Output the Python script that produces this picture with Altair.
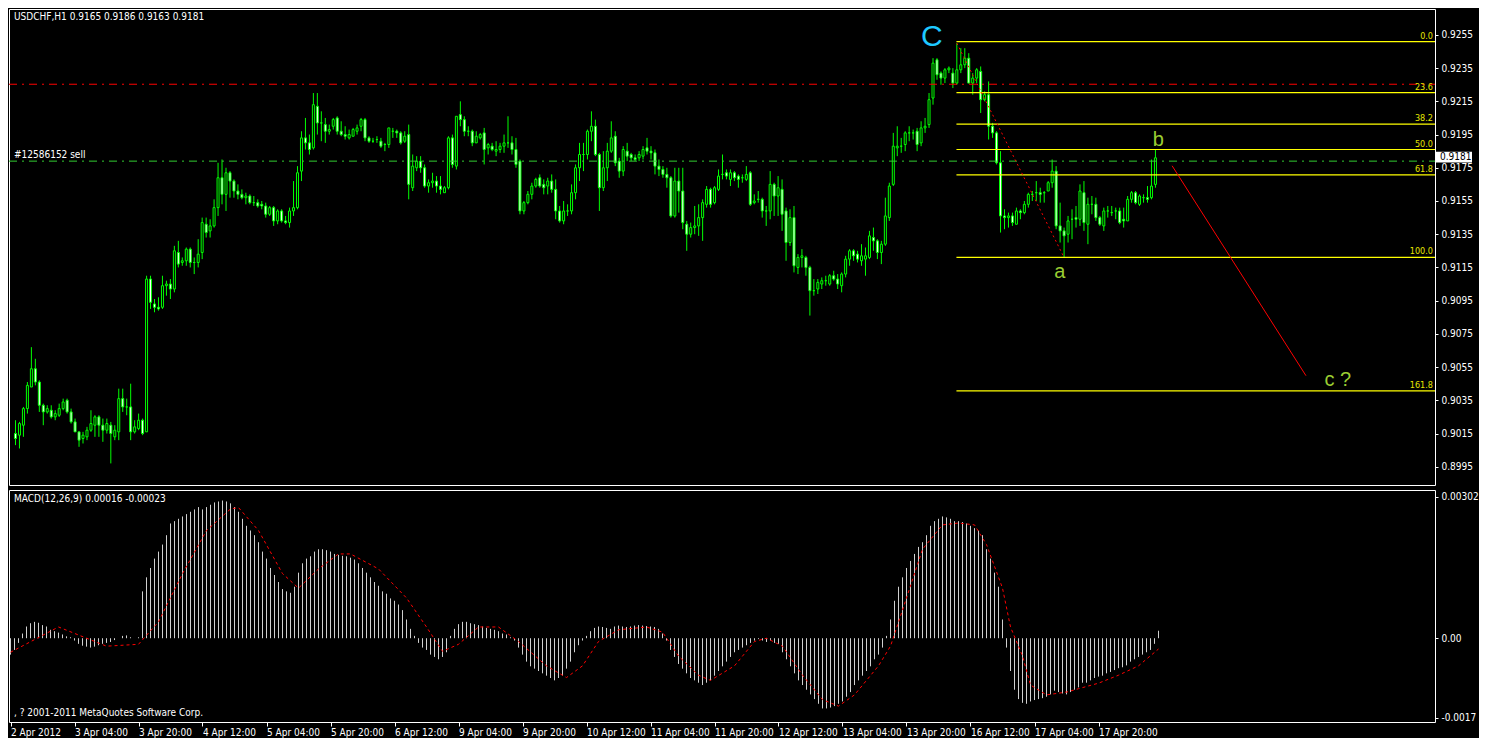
import json
import altair as alt
import pandas as pd

# ---------------- data ----------------
# hourly candles, prices in pips (1 pip = 0.0001)
opens = [
    9015, 9014, 9020, 9030, 9043, 9054, 9046, 9032, 9028, 9029,
    9025, 9026, 9030, 9035, 9028, 9022, 9016, 9012, 9013, 9017,
    9020, 9025, 9020, 9017, 9020, 9013, 9016, 9036, 9031, 9031,
    9016, 9018, 9023, 9016, 9108, 9093, 9091, 9091, 9104, 9105,
    9102, 9124, 9118, 9119, 9126, 9118, 9118, 9124, 9141, 9137,
    9140, 9151, 9169, 9159, 9172, 9167, 9161, 9159, 9157, 9158,
    9154, 9154, 9153, 9152, 9147, 9151, 9143, 9149, 9143, 9142,
    9149, 9151, 9173, 9193, 9190, 9187, 9212, 9202, 9201, 9197,
    9200, 9205, 9197, 9195, 9193, 9194, 9197, 9200, 9204, 9193,
    9191, 9192, 9191, 9189, 9189, 9197, 9197, 9196, 9191, 9195,
    9163, 9175, 9179, 9175, 9164, 9166, 9167, 9164, 9160, 9163,
    9193, 9176, 9207, 9204, 9197, 9197, 9190, 9193, 9196, 9187,
    9188, 9185, 9186, 9188, 9190, 9190, 9186, 9179, 9149, 9154,
    9159, 9164, 9169, 9165, 9164, 9167, 9162, 9149, 9143, 9149,
    9149, 9160, 9175, 9183, 9183, 9197, 9200, 9183, 9163, 9175,
    9185, 9194, 9179, 9173, 9185, 9183, 9181, 9181, 9182, 9187,
    9185, 9184, 9176, 9174, 9171, 9169, 9146, 9167, 9161, 9141,
    9135, 9139, 9140, 9145, 9153, 9162, 9154, 9162, 9171, 9172,
    9168, 9172, 9170, 9169, 9168, 9172, 9154, 9156, 9156, 9149,
    9149, 9165, 9158, 9162, 9149, 9130, 9145, 9115, 9121, 9121,
    9115, 9101, 9102, 9105, 9107, 9105, 9110, 9108, 9104, 9111,
    9120, 9125, 9123, 9119, 9120, 9121, 9133, 9131, 9124, 9129,
    9145, 9165, 9187, 9188, 9189, 9196, 9196, 9197, 9190, 9199,
    9201, 9217, 9240, 9232, 9229, 9234, 9232, 9226, 9234, 9237,
    9241, 9226, 9229, 9233, 9216, 9219, 9200, 9196, 9178, 9146,
    9145, 9146, 9141, 9149, 9148, 9153, 9159, 9160, 9160, 9160,
    9161, 9166, 9173, 9140, 9137, 9135, 9144, 9145, 9144, 9160,
    9141, 9153, 9153, 9145, 9140, 9149, 9148, 9149, 9149, 9144,
    9143, 9156, 9160, 9153, 9157, 9157, 9157, 9165,
]
highs = [
    9023, 9022, 9031, 9046, 9067, 9060, 9047, 9033, 9032, 9032,
    9029, 9033, 9036, 9036, 9030, 9024, 9016, 9016, 9019, 9029,
    9026, 9026, 9024, 9024, 9022, 9020, 9042, 9042, 9036, 9045,
    9023, 9027, 9024, 9110, 9110, 9096, 9097, 9110, 9107, 9108,
    9128, 9131, 9121, 9127, 9127, 9121, 9132, 9145, 9145, 9144,
    9156, 9178, 9180, 9175, 9173, 9168, 9165, 9162, 9160, 9159,
    9158, 9156, 9155, 9154, 9152, 9152, 9150, 9150, 9146, 9151,
    9167, 9176, 9197, 9205, 9195, 9220, 9220, 9209, 9205, 9201,
    9205, 9206, 9203, 9200, 9198, 9199, 9201, 9205, 9205, 9194,
    9193, 9194, 9193, 9190, 9199, 9199, 9198, 9197, 9197, 9201,
    9183, 9182, 9182, 9177, 9168, 9172, 9170, 9170, 9164, 9194,
    9195, 9206, 9215, 9206, 9200, 9198, 9197, 9196, 9199, 9190,
    9190, 9191, 9190, 9195, 9206, 9194, 9193, 9180, 9155, 9161,
    9166, 9169, 9171, 9168, 9169, 9171, 9168, 9152, 9155, 9153,
    9165, 9177, 9190, 9190, 9198, 9209, 9204, 9184, 9185, 9190,
    9203, 9197, 9181, 9188, 9190, 9184, 9183, 9185, 9188, 9193,
    9188, 9186, 9180, 9176, 9175, 9170, 9175, 9175, 9175, 9143,
    9142, 9152, 9153, 9156, 9164, 9163, 9164, 9174, 9183, 9174,
    9174, 9173, 9171, 9171, 9176, 9173, 9159, 9161, 9157, 9152,
    9173, 9166, 9170, 9168, 9151, 9150, 9152, 9123, 9126, 9122,
    9116, 9108, 9108, 9109, 9110, 9111, 9113, 9111, 9112, 9122,
    9126, 9126, 9125, 9129, 9127, 9137, 9139, 9132, 9131, 9157,
    9166, 9196, 9200, 9193, 9197, 9200, 9198, 9199, 9203, 9205,
    9220, 9241, 9241, 9233, 9235, 9236, 9235, 9250, 9247, 9247,
    9244, 9232, 9235, 9236, 9221, 9227, 9202, 9197, 9185, 9150,
    9148, 9148, 9151, 9150, 9155, 9160, 9161, 9167, 9163, 9161,
    9167, 9180, 9176, 9154, 9139, 9146, 9150, 9152, 9165, 9167,
    9157, 9158, 9157, 9146, 9151, 9152, 9152, 9151, 9151, 9151,
    9158, 9161, 9161, 9159, 9159, 9164, 9180, 9186,
]
lows = [
    9008, 9006, 9013, 9027, 9043, 9044, 9028, 9020, 9027, 9024,
    9023, 9025, 9029, 9027, 9021, 9016, 9007, 9009, 9011, 9016,
    9013, 9013, 9010, 9015, 8997, 9011, 9011, 9028, 9026, 9011,
    9015, 9017, 9014, 9016, 9090, 9088, 9089, 9090, 9098, 9096,
    9100, 9115, 9116, 9116, 9115, 9111, 9115, 9120, 9133, 9133,
    9139, 9146, 9153, 9149, 9157, 9157, 9156, 9156, 9153, 9153,
    9152, 9151, 9150, 9145, 9146, 9140, 9141, 9142, 9141, 9139,
    9146, 9150, 9167, 9186, 9183, 9186, 9195, 9191, 9190, 9195,
    9198, 9195, 9194, 9192, 9192, 9194, 9195, 9197, 9191, 9190,
    9190, 9190, 9187, 9185, 9187, 9193, 9193, 9189, 9190, 9156,
    9161, 9173, 9172, 9163, 9160, 9163, 9160, 9159, 9160, 9162,
    9175, 9174, 9200, 9194, 9194, 9188, 9190, 9192, 9177, 9183,
    9185, 9182, 9184, 9184, 9187, 9183, 9175, 9147, 9147, 9153,
    9156, 9163, 9163, 9159, 9159, 9160, 9144, 9142, 9141, 9146,
    9147, 9156, 9167, 9173, 9180, 9191, 9182, 9149, 9161, 9167,
    9184, 9176, 9169, 9170, 9179, 9179, 9179, 9179, 9180, 9183,
    9180, 9171, 9170, 9169, 9163, 9145, 9145, 9148, 9138, 9125,
    9133, 9135, 9134, 9131, 9151, 9151, 9153, 9161, 9168, 9168,
    9164, 9167, 9163, 9166, 9167, 9152, 9153, 9154, 9145, 9140,
    9144, 9146, 9146, 9137, 9119, 9128, 9112, 9111, 9115, 9110,
    9086, 9098, 9099, 9102, 9104, 9104, 9107, 9102, 9100, 9109,
    9116, 9119, 9118, 9116, 9110, 9120, 9125, 9120, 9117, 9128,
    9143, 9164, 9182, 9184, 9185, 9191, 9192, 9185, 9188, 9196,
    9199, 9213, 9228, 9225, 9226, 9232, 9223, 9225, 9232, 9235,
    9226, 9219, 9226, 9208, 9215, 9192, 9193, 9177, 9136, 9138,
    9139, 9140, 9141, 9144, 9147, 9151, 9155, 9155, 9154, 9154,
    9161, 9163, 9138, 9130, 9121, 9130, 9132, 9139, 9140, 9137,
    9129, 9147, 9143, 9140, 9137, 9145, 9146, 9144, 9141, 9139,
    9143, 9154, 9153, 9152, 9154, 9154, 9156, 9163,
]
closes = [
    9012, 9021, 9030, 9044, 9054, 9046, 9032, 9028, 9030, 9025,
    9027, 9030, 9034, 9028, 9022, 9016, 9011, 9014, 9017, 9021,
    9025, 9020, 9017, 9021, 9015, 9017, 9036, 9031, 9031, 9016,
    9019, 9023, 9015, 9108, 9094, 9091, 9090, 9104, 9105, 9102,
    9125, 9117, 9119, 9126, 9118, 9118, 9123, 9142, 9136, 9140,
    9151, 9169, 9159, 9172, 9167, 9161, 9159, 9157, 9158, 9154,
    9154, 9152, 9152, 9147, 9151, 9143, 9149, 9143, 9142, 9149,
    9151, 9172, 9193, 9190, 9186, 9213, 9202, 9202, 9197, 9198,
    9204, 9197, 9195, 9194, 9195, 9198, 9199, 9204, 9193, 9191,
    9191, 9192, 9188, 9189, 9199, 9197, 9196, 9190, 9194, 9165,
    9176, 9179, 9175, 9164, 9166, 9167, 9164, 9162, 9163, 9193,
    9177, 9206, 9204, 9197, 9197, 9190, 9194, 9195, 9186, 9189,
    9186, 9186, 9188, 9190, 9190, 9186, 9177, 9149, 9154, 9159,
    9164, 9168, 9164, 9163, 9167, 9162, 9149, 9143, 9149, 9149,
    9160, 9175, 9183, 9183, 9197, 9200, 9183, 9163, 9175, 9185,
    9193, 9178, 9173, 9186, 9182, 9181, 9180, 9183, 9186, 9185,
    9184, 9176, 9174, 9171, 9169, 9146, 9167, 9161, 9142, 9135,
    9139, 9140, 9145, 9154, 9162, 9153, 9163, 9170, 9171, 9170,
    9172, 9169, 9168, 9169, 9171, 9153, 9155, 9156, 9149, 9149,
    9165, 9158, 9163, 9147, 9130, 9145, 9116, 9121, 9122, 9115,
    9101, 9101, 9106, 9107, 9107, 9110, 9108, 9105, 9111, 9120,
    9125, 9122, 9120, 9122, 9122, 9134, 9131, 9124, 9129, 9146,
    9164, 9188, 9188, 9188, 9196, 9196, 9196, 9189, 9199, 9200,
    9216, 9238, 9231, 9229, 9234, 9235, 9226, 9234, 9237, 9241,
    9226, 9229, 9234, 9216, 9219, 9200, 9196, 9178, 9146, 9145,
    9146, 9142, 9149, 9148, 9153, 9159, 9159, 9160, 9159, 9160,
    9166, 9173, 9140, 9137, 9134, 9143, 9144, 9144, 9161, 9142,
    9153, 9153, 9145, 9141, 9149, 9149, 9148, 9149, 9142, 9143,
    9156, 9160, 9154, 9158, 9157, 9156, 9164, 9181,
]

# MACD main line per bar, in units of 0.00001
macd_main = (
    [-35, -25, -10]
    + [10, 25, 32, 35, 33, 28, 25]
    + [18, 15, 12, 8, 4, 2]
    + [-5, -12, -16, -18, -20, -18, -15, -12, -10]
    + [-8, -4, 0, 5, 6, 2, 0, 2]
    + [100]
    + [130, 150, 170, 185, 200, 220, 245]
    + [250, 255, 260, 265, 270, 275, 280]
    + [275, 280, 285, 290, 292, 294, 292, 288]
    + [280, 270, 255, 240, 230, 220, 205]
    + [185, 170, 150, 135, 120, 105, 100, 97]
    + [110, 140, 160, 170, 175, 185, 190, 190]
    + [188, 185, 180, 178, 176, 175, 172, 168]
    + [160, 150, 140, 130, 120, 112, 100, 95, 85, 80, 72, 60, 40]
    + [20, 5, -10, -20, -25]
    + [-35, -40, -45, -40, -30]
    + [5, 20, 30, 35, 35]
    + [32, 30, 28, 25, 22, 20, 18, 15, 10, 8, 2]
    + [-5, -20, -35, -50, -60, -65, -70, -75, -80, -85]
    + [-90, -85, -80, -65, -50]
    + [-30, -15, -5, 5]
    + [15, 22, 25, 24, 22, 20, 25, 27, 25, 24, 25, 27, 28, 27, 26, 25, 24, 20]
    + [10, -5, -25, -40, -55]
    + [-65, -75, -85, -90, -95, -100, -95, -90]
    + [-80, -70, -60, -50, -40, -30, -25, -20, -15, -10]
    + [-5, -2, -5, -8, -5, -10, -12]
    + [-30, -45, -60, -75, -90, -100, -110]
    + [-120, -130, -140, -150, -150, -148, -145]
    + [-140, -135, -125, -115, -100, -90, -80]
    + [-70, -60, -45, -35, -20]
    + [5, 40, 80, 110]
    + [130, 150, 165, 180, 195, 205, 220, 240]
    + [250, 255, 260, 258, 255, 250]
    + [250, 248, 245, 240, 235, 230, 220]
    + [190, 170, 140, 110]
    + [40, -20, -70, -110, -130]
    + [-138, -140, -135, -132, -130, -128]
    + [-125, -120, -112, -115, -118, -120, -115, -110, -105, -95, -95, -90, -85,
       -82, -80, -75, -72, -68, -64, -62, -58, -50, -45, -40, -35, -30, -25, -12, 16]
)

# MACD signal line read at these bars (units of 0.00001)
signal_bar = [0, 12, 24, 32, 37, 43, 49, 55, 57, 62, 68, 72, 77, 82, 85, 92, 99, 104,
              108, 112, 117, 122, 127, 134, 139, 143, 147, 152, 159, 163, 167, 172, 175,
              181, 186, 189, 193, 198, 203, 207, 211, 217, 220, 224, 228, 233, 237, 241,
              244, 248, 250, 253, 255, 259, 264, 272, 277, 282, 287]
signal_val = [-30, 24, -17, -13, 35, 138, 230, 276, 279, 230, 138, 107, 148, 180, 180,
              148, 86, 24, -28, -13, 24, 24, -7, -59, -84, -59, -7, 18, 24, 13, -38, -79,
              -90, -59, -7, 0, -17, -79, -131, -145, -121, -59, -17, 86, 190, 242, 246,
              242, 200, 107, 24, -38, -100, -121, -115, -96, -79, -59, -23]

time_label_bars = [0, 16, 32, 48, 64, 80, 96, 112, 128, 144, 160, 176, 192, 208, 224, 240, 256, 272]
time_labels = ["2 Apr 2012", "3 Apr 04:00", "3 Apr 20:00", "4 Apr 12:00", "5 Apr 04:00",
               "5 Apr 20:00", "6 Apr 12:00", "9 Apr 04:00", "9 Apr 20:00", "10 Apr 12:00",
               "11 Apr 04:00", "11 Apr 20:00", "12 Apr 12:00", "13 Apr 04:00", "13 Apr 20:00",
               "16 Apr 12:00", "17 Apr 04:00", "17 Apr 20:00"]

price_ticks = [0.8995, 0.9015, 0.9035, 0.9055, 0.9075, 0.9095, 0.9115, 0.9135,
               0.9155, 0.9175, 0.9195, 0.9215, 0.9235, 0.9255]
macd_tick_vals = [0.00302, 0.0, -0.0017]
macd_tick_text = ["0.00302", "0.00", "-0.0017"]

fib_names = ["0.0", "23.6", "38.2", "50.0", "61.8", "100.0", "161.8"]
fib_prices = [0.92510, 0.92203, 0.92013, 0.91860, 0.91707, 0.91210, 0.90407]
fib_start_bar = 236.9

stop_price = 0.92253
order_price = 0.91790
order_text = "#12586152 sell"
bid_price = 0.9181

trend_bar = [237, 264]
trend_price = [0.92500, 0.91210]
proj_bar = [291.2, 324.9]
proj_price = [0.91762, 0.90498]

wave_text = ["C", "a", "b", "c ?"]
wave_bar = [230.7, 262.9, 287.7, 332.9]
wave_price = [0.92540, 0.91121, 0.91917, 0.90475]
wave_color = ["#1ec8ff", "#9acd32", "#9acd32", "#9acd32"]
wave_size = [30, 20, 20, 20]

header_text = "USDCHF,H1  0.9165 0.9186 0.9163 0.9181"
macd_text = "MACD(12,26,9) 0.00016 -0.00023"
copy_text = ", ? 2001-2011 MetaQuotes Software Corp."

# ---------------- layout ----------------
W = 1426
H1 = 476
H2 = 232
X0 = -0.375
X1 = X0 + W / 4.0
FONT = "Tahoma, 'DejaVu Sans Condensed', 'Liberation Sans', sans-serif"
GREEN = "#00ff00"

n = min(len(opens), len(highs), len(lows), len(closes))
candles = pd.DataFrame({
    "i": list(range(n)),
    "o": [v / 10000 for v in opens[:n]],
    "h": [v / 10000 for v in highs[:n]],
    "l": [v / 10000 for v in lows[:n]],
    "c": [v / 10000 for v in closes[:n]],
})

xs = alt.Scale(domain=[X0, X1], nice=False, zero=False)
ys = alt.Scale(domain=[0.89840, 0.92706], nice=False, zero=False)
ms = alt.Scale(domain=[-0.001789, 0.003165], nice=False, zero=False)

yax = alt.Axis(orient="right", values=price_ticks, format=".4f", tickSize=3,
               labelPadding=3, domain=False, grid=False, title=None,
               labelColor="#ffffff", tickColor="#ffffff", labelFont=FONT,
               labelFontSize=10, labelOverlap=False, labelFlush=False)
XN = alt.X("i:Q", scale=xs, axis=None)

wick = alt.Chart(candles).mark_rule(color=GREEN, strokeWidth=1, clip=True).encode(
    x=XN, y=alt.Y("l:Q", scale=ys, axis=yax), y2="h:Q")
body = alt.Chart(candles).mark_bar(size=2, stroke=GREEN, strokeWidth=1, clip=True,
                                   orient="vertical").encode(
    x=XN, y=alt.Y("o:Q", scale=ys, axis=yax), y2="c:Q",
    fill=alt.condition("datum.c < datum.o", alt.value("#ffffff"), alt.value("#000000")))

hl = pd.DataFrame({"p": [stop_price, order_price], "col": ["stop", "order"]})
hlines = alt.Chart(hl).mark_rule(strokeWidth=1, strokeDash=[8, 5, 2, 5]).encode(
    y=alt.Y("p:Q", scale=ys, axis=yax), x=alt.value(0), x2=alt.value(W),
    color=alt.Color("col:N", scale=alt.Scale(domain=["stop", "order"],
                                             range=["#ff0000", "#32cd32"]), legend=None))

fib = pd.DataFrame({"p": fib_prices, "name": fib_names,
                    "x0": [fib_start_bar] * len(fib_prices)})
fib_lines = alt.Chart(fib).mark_rule(color="#ffff00", strokeWidth=1.2).encode(
    x=alt.X("x0:Q", scale=xs, axis=None), x2=alt.value(W),
    y=alt.Y("p:Q", scale=ys, axis=yax))
fib_text = alt.Chart(fib).mark_text(align="right", baseline="bottom", dy=-1,
                                    color="#e6e600", font=FONT, fontSize=9).encode(
    x=alt.value(W - 2), y=alt.Y("p:Q", scale=ys, axis=yax), text="name:N")

trend = alt.Chart(pd.DataFrame({"i": trend_bar, "p": trend_price})).mark_line(
    color="#ff0000", strokeWidth=1, strokeDash=[2, 3]).encode(
    x=XN, y=alt.Y("p:Q", scale=ys, axis=yax))
proj = alt.Chart(pd.DataFrame({"i": proj_bar, "p": proj_price})).mark_line(
    color="#ff0000", strokeWidth=1).encode(x=XN, y=alt.Y("p:Q", scale=ys, axis=yax))

waves = alt.Chart(pd.DataFrame({"i": wave_bar, "p": wave_price, "t": wave_text,
                                "col": wave_color, "sz": wave_size})).mark_text(
    font="Liberation Sans", baseline="middle", align="center").encode(
    x=XN, y=alt.Y("p:Q", scale=ys, axis=yax), text="t:N",
    color=alt.Color("col:N", scale=None), size=alt.Size("sz:Q", scale=None))

order_lbl = alt.Chart(pd.DataFrame({"p": [order_price], "t": [order_text]})).mark_text(
    align="left", baseline="bottom", dy=-1, color="#ffffff", font=FONT, fontSize=10).encode(
    x=alt.value(5), y=alt.Y("p:Q", scale=ys, axis=yax), text="t:N")

# white price box on the right axis (current bid)
box = alt.Chart(pd.DataFrame({"a": [0.91846], "b": [0.91782]})).mark_rect(
    color="#ffffff").encode(x=alt.value(W + 1), x2=alt.value(W + 37),
                            y=alt.Y("a:Q", scale=ys, axis=yax), y2="b:Q")
box_txt = alt.Chart(pd.DataFrame({"p": [0.91814], "t": [f"{bid_price:.4f}"]})).mark_text(
    align="left", baseline="middle", color="#000000", font=FONT, fontSize=10).encode(
    x=alt.value(W + 5), y=alt.Y("p:Q", scale=ys, axis=yax), text="t:N")

header = alt.Chart(pd.DataFrame({"t": [header_text]})).mark_text(
    align="left", baseline="middle", color="#ffffff", font=FONT, fontSize=10).encode(
    x=alt.value(5), y=alt.value(8), text="t:N")

main = alt.layer(wick, body, hlines, fib_lines, fib_text, trend, proj, waves,
                 order_lbl, header, box, box_txt).properties(width=W, height=H1)

# ---------------- MACD panel ----------------
m = min(len(macd_main), n)
macd_df = pd.DataFrame({"i": list(range(m)), "v": [v / 100000 for v in macd_main[:m]],
                        "z": [0.0] * m})
sig_df = pd.DataFrame({"i": signal_bar, "s": [v / 100000 for v in signal_val]})

xax = alt.Axis(values=time_label_bars,
               labelExpr=f"{json.dumps(time_labels)}[indexof({json.dumps(time_label_bars)}, datum.value)]",
               tickSize=4, labelPadding=1, labelAlign="left", labelBaseline="top",
               labelColor="#ffffff", tickColor="#ffffff", domain=False, grid=False,
               title=None, labelFont=FONT, labelFontSize=10, labelFlush=False,
               labelOverlap=False, labelBound=False)
max_ = alt.Axis(orient="right", values=macd_tick_vals,
                labelExpr=f"{json.dumps(macd_tick_text)}[indexof({json.dumps(macd_tick_vals)}, datum.value)]",
                tickSize=3, labelPadding=3, domain=False, grid=False, title=None,
                labelColor="#ffffff", tickColor="#ffffff", labelFont=FONT,
                labelFontSize=10, labelOverlap=False, labelFlush=False)

XM = alt.X("i:Q", scale=xs, axis=xax)
hist = alt.Chart(macd_df).mark_rule(color="#d0d0d0", strokeWidth=1, clip=True).encode(
    x=XM, y=alt.Y("v:Q", scale=ms, axis=max_), y2="z:Q")
sig = alt.Chart(sig_df).mark_line(color="#ff0000", strokeWidth=1, strokeDash=[3, 3],
                                  clip=True).encode(
    x=XM, y=alt.Y("s:Q", scale=ms, axis=max_))
macd_lbl = alt.Chart(pd.DataFrame({"t": [macd_text]})).mark_text(
    align="left", baseline="middle", color="#ffffff", font=FONT, fontSize=10).encode(
    x=alt.value(5), y=alt.value(9), text="t:N")
copy_lbl = alt.Chart(pd.DataFrame({"t": [copy_text]})).mark_text(
    align="left", baseline="middle", color="#ffffff", font=FONT, fontSize=10).encode(
    x=alt.value(5), y=alt.value(H2 - 9), text="t:N")

macd = alt.layer(hist, sig, macd_lbl, copy_lbl).properties(width=W, height=H2)

chart = alt.vconcat(main, macd, spacing=3).properties(
    padding=0, background="#000000"
).configure_view(stroke="#ffffff", strokeWidth=1, fill="#000000")

chart.save("out.html", embed_options={"renderer": "svg", "actions": False})
